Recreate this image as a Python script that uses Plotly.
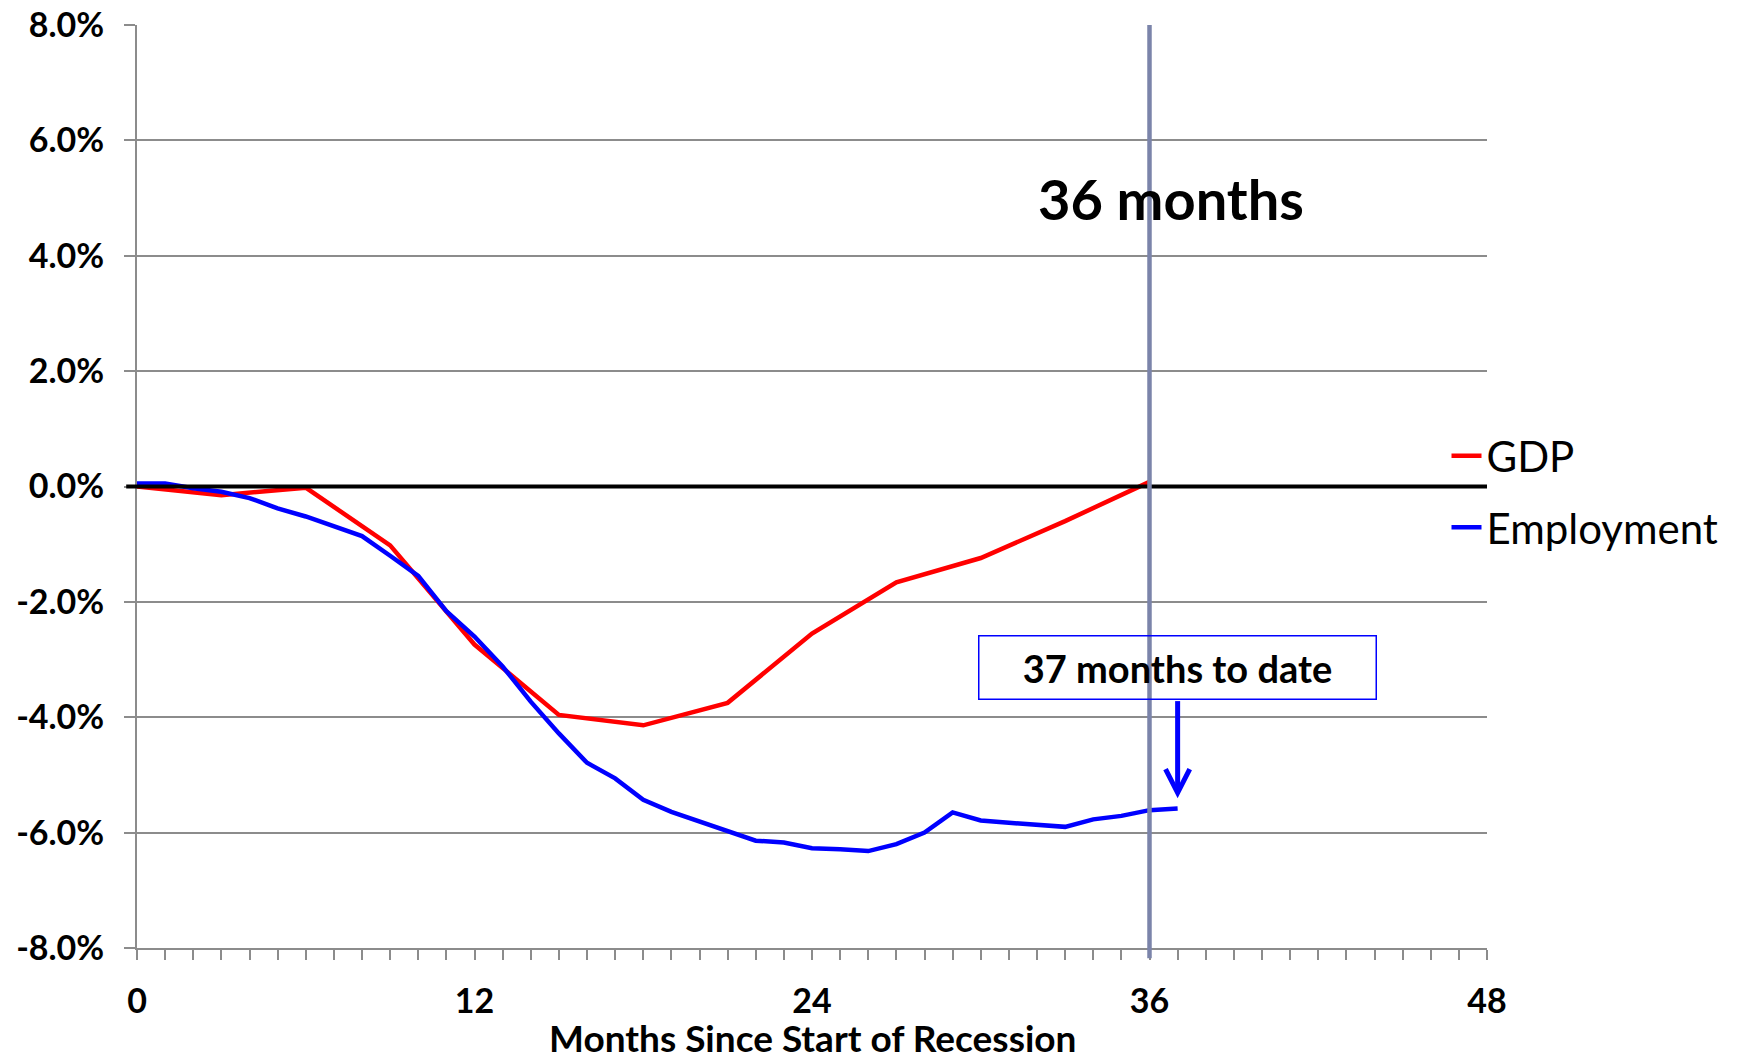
import plotly.graph_objects as go

# GDP is quarterly, employment monthly (percent change since start of recession)
gdp_months = [0, 3, 6, 9, 12, 15, 18, 21, 24, 27, 30, 33, 36]
gdp_change = [0.0, -0.15, -0.02, -1.02, -2.74, -3.96, -4.14, -3.75, -2.55, -1.66, -1.24, -0.60, 0.08]

emp_months = list(range(0, 38))
emp_change = [0.05, 0.05, -0.03, -0.09, -0.20, -0.38, -0.52, -0.68, -0.86, -1.20,
              -1.55, -2.16, -2.60, -3.12, -3.73, -4.28, -4.79, -5.06, -5.43, -5.64,
              -5.81, -5.98, -6.14, -6.17, -6.27, -6.29, -6.32, -6.20, -6.00, -5.65,
              -5.79, -5.83, -5.87, -5.90, -5.77, -5.71, -5.61, -5.58]

x_ticks = [0, 12, 24, 36, 48]
y_ticks = [-8, -6, -4, -2, 0, 2, 4, 6, 8]
y_labels = [f'{v:.1f}%' for v in y_ticks]

MARK_MONTH = 36
TO_DATE_MONTH = 37

GRID = '#8c8c8c'
FONT = 'Lato'

fig = go.Figure()
fig.add_trace(go.Scatter(
    x=gdp_months, y=gdp_change, mode='lines', name='GDP',
    legendgroup='gdp', line=dict(color='#ff0000', width=4.5)
))
fig.add_trace(go.Scatter(
    x=emp_months, y=emp_change, mode='lines', name='Employment',
    legendgroup='emp', line=dict(color='#0000ff', width=4.5)
))

# zero line, drawn a bit past the axis like the reference
fig.add_shape(type='line', xref='paper', yref='y', x0=-0.008, x1=1.0, y0=0, y1=0,
              line=dict(color='black', width=4), layer='above')
# vertical marker at 36 months
fig.add_shape(type='line', xref='x', yref='paper', x0=MARK_MONTH, x1=MARK_MONTH,
              y0=-0.011, y1=1.0, line=dict(color='#7b84aa', width=4.5), layer='above')

# arrow from the box down to the last employment point
fig.add_shape(type='line', xref='x', yref='y', x0=TO_DATE_MONTH, x1=TO_DATE_MONTH,
              y0=-3.72, y1=-5.28, line=dict(color='#0000ff', width=5))
fig.add_shape(type='path', xref='x', yref='y',
              path=f'M {TO_DATE_MONTH - 0.43},-4.90 L {TO_DATE_MONTH},-5.31 L {TO_DATE_MONTH + 0.43},-4.90',
              line=dict(color='#0000ff', width=5))

fig.add_annotation(x=MARK_MONTH + 0.77, y=5.0, xref='x', yref='y', showarrow=False,
                   text='<b>36 months</b>', font=dict(family=FONT, size=56, color='black'))
fig.add_annotation(x=TO_DATE_MONTH, y=-3.14, xref='x', yref='y', showarrow=False,
                   text='<b>37 months to date</b>', font=dict(family=FONT, size=38, color='black'),
                   width=392, height=58, bordercolor='#0000ff', borderwidth=1.5, borderpad=2,
                   bgcolor='rgba(0,0,0,0)')
# x axis title sits just under the tick labels
fig.add_annotation(x=0.5, y=-0.0975, xref='paper', yref='paper', showarrow=False,
                   xanchor='center', yanchor='middle',
                   text='<b>Months Since Start of Recession</b>',
                   font=dict(family=FONT, size=37, color='black', weight='bold'))

fig.update_layout(
    width=1736, height=1044,
    margin=dict(l=129, r=257, t=17, b=104),
    plot_bgcolor='white', paper_bgcolor='white',
    font=dict(family=FONT, color='black'),
    showlegend=True,
    legend=dict(x=0.970, y=0.570, xanchor='left', yanchor='top',
                font=dict(family=FONT, size=42), tracegroupgap=14,
                bgcolor='rgba(0,0,0,0)', itemwidth=30),
    xaxis=dict(
        range=[0, 48], tickmode='array', tickvals=x_ticks, automargin=False,
        ticks='outside', ticklen=10, tickcolor=GRID, tickwidth=1.5,
        minor=dict(dtick=1, ticks='outside', ticklen=10, tickcolor=GRID, tickwidth=1.5),
        showgrid=False, zeroline=False,
        showline=True, linecolor=GRID, linewidth=2,
        tickfont=dict(family=FONT, size=34, color='black', weight='bold'),
        ticklabelstandoff=12, ticklabeloverflow='allow',
    ),
    yaxis=dict(
        range=[-8, 8], tickmode='array', tickvals=y_ticks, ticktext=y_labels,
        automargin=False,
        ticks='outside', ticklen=11, tickcolor=GRID, tickwidth=2,
        showgrid=True, gridcolor=GRID, gridwidth=2, zeroline=False,
        showline=True, linecolor=GRID, linewidth=2,
        tickfont=dict(family=FONT, size=34, color='black', weight='bold'),
        ticklabelstandoff=13, ticklabeloverflow='allow',
    ),
)

fig.write_html('out.html')
